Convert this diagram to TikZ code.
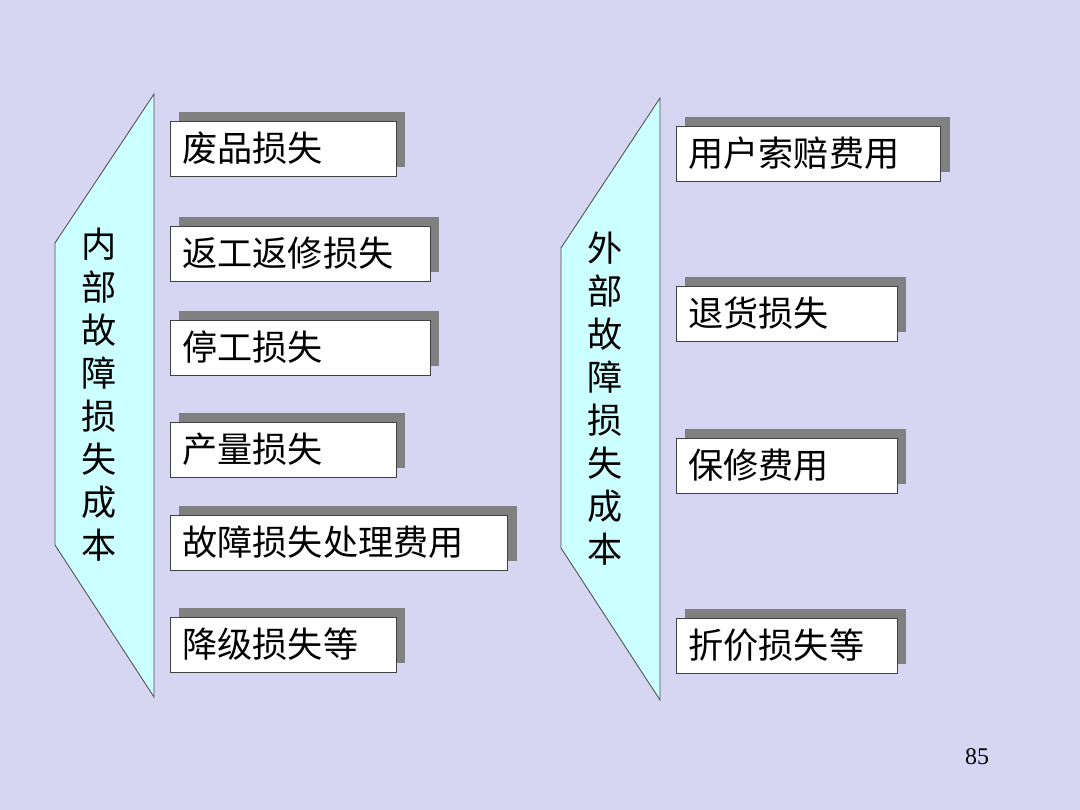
\documentclass[tikz,border=0pt]{standalone}
\usepackage{fontspec}
\setmainfont{Liberation Serif}
\newfontfamily\cjk{Noto Sans CJK SC}
\usetikzlibrary{shadows}

\definecolor{slidebg}{RGB}{214,214,243}
\definecolor{panelcyan}{RGB}{204,255,255}
\definecolor{shadowgray}{RGB}{128,128,128}

\tikzset{
  itembox/.style={draw=black!75, fill=white, line width=0.6pt,
    anchor=west, align=left, text width=#1, inner xsep=0.3cm,
    minimum height=1.375cm, font=\fontsize{25}{30}\selectfont\cjk,
    drop shadow={shadow xshift=0.225cm, shadow yshift=0.225cm,
      fill=shadowgray, opacity=1}},
  panel/.style={draw=black!70, fill=panelcyan, line width=0.6pt},
  paneltext/.style={align=center, inner sep=0pt,
    font=\fontsize{25}{30.6}\selectfont\cjk}
}

\begin{document}
\begin{tikzpicture}[x=0.025cm, y=-0.025cm]

  % slide background
  \fill[slidebg] (0,0) rectangle (1080,810);
  \useasboundingbox (0,0) rectangle (1080,810);

  % left panel: internal failure cost
  \draw[panel] (154,94) -- (154,697) -- (55,545) -- (55,243) -- cycle;
  \node[paneltext] (inner) at (99,395) {内\\部\\故\\障\\损\\失\\成\\本};

  % right panel: external failure cost
  \draw[panel] (660,98) -- (660,700) -- (561,548) -- (561,248) -- cycle;
  \node[paneltext] (outer) at (605,399) {外\\部\\故\\障\\损\\失\\成\\本};

  % internal items
  \node[itembox=5.05cm] (scrap) at (170,148.5) {废品损失};
  \node[itembox=5.9cm] (rework) at (170,253.5) {返工返修损失};
  \node[itembox=5.9cm] (stop) at (170,347.5) {停工损失};
  \node[itembox=5.05cm] (output) at (170,449.5) {产量损失};
  \node[itembox=7.825cm] (handling) at (170,542.5) {故障损失处理费用};
  \node[itembox=5.05cm] (downgrade) at (170,644.5) {降级损失等};

  % external items
  \node[itembox=6.0cm] (claim) at (676,153.5) {用户索赔费用};
  \node[itembox=4.925cm] (returns) at (676,313.5) {退货损失};
  \node[itembox=4.925cm] (warranty) at (676,465.5) {保修费用};
  \node[itembox=4.925cm] (discount) at (676,645.5) {折价损失等};

  % page number
  \node[font=\fontsize{17}{20}\selectfont] (page) at (977,757) {85};

\end{tikzpicture}
\end{document}
